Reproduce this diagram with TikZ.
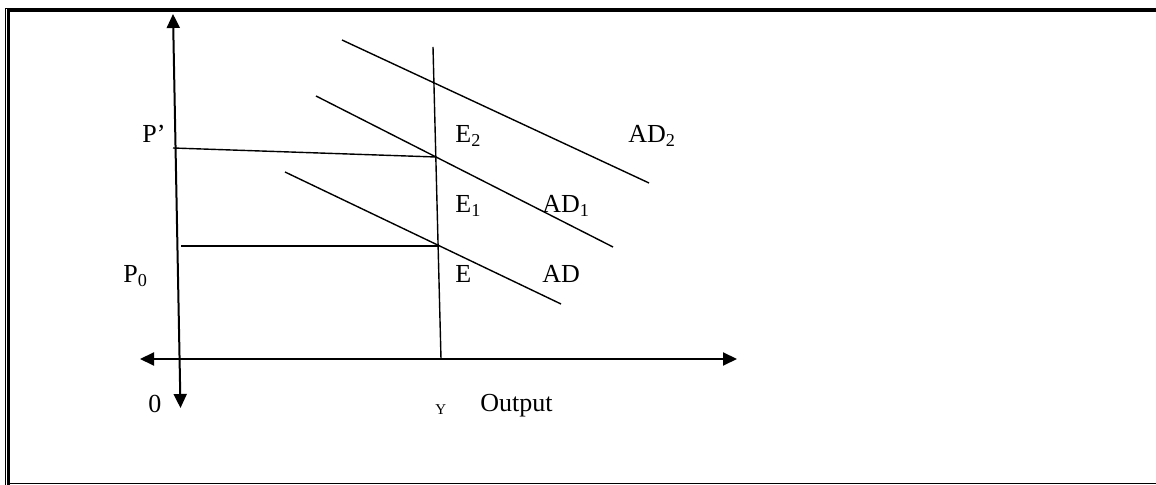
\documentclass[tikz,border=0pt]{standalone}
\usepackage{fontspec}
\setmainfont{Liberation Serif}
\usepackage{tikz}
\usetikzlibrary{arrows.meta,positioning,calc}

\begin{document}
\begin{tikzpicture}[x=0.5pt,y=-0.5pt,
  every node/.style={font=\fontsize{13}{15}\selectfont,inner sep=0pt,anchor=base west},
  axis/.style={line width=1pt,{Triangle[length=7pt,width=6.5pt]}-{Triangle[length=7pt,width=6.5pt]}},
  curve/.style={line width=0.7pt}]
  \useasboundingbox (0,0) rectangle (1156,485);
  % frame
  \draw[line width=0.6pt] (5.5,485) -- (5.5,8.5) -- (1156,8.5);
  \draw[line width=1.6pt] (8.7,485) -- (8.7,10.5) -- (1156,10.5);
  \draw[line width=0.6pt] (8,483.7) -- (1156,483.7);
  % axes
  \coordinate (ytop) at (173,14);
  \coordinate (ybot) at (180.5,408);
  \coordinate (xleft) at (140,359);
  \coordinate (xright) at (737,359);
  \draw[axis] (ybot) -- (ytop);
  \draw[axis] (xleft) -- (xright);
  % vertical supply line at Y
  \coordinate (stop) at (433,47);
  \coordinate (sbot) at (441,359);
  \draw[curve] (stop) -- (sbot);
  % demand curves
  \coordinate (ad2a) at (342,40);  \coordinate (ad2b) at (649,183);
  \coordinate (ad1a) at (316,96);  \coordinate (ad1b) at (613,247);
  \coordinate (ad0a) at (285,172); \coordinate (ad0b) at (561,304);
  \draw[curve] (ad2a) -- (ad2b);
  \draw[curve] (ad1a) -- (ad1b);
  \draw[curve] (ad0a) -- (ad0b);
  % price levels
  \coordinate (pone) at (173,148);  \coordinate (eone) at (436,157);
  \coordinate (pzero) at (181,246); \coordinate (ezero) at (438,246);
  \draw[curve] (pone) -- (eone);
  \draw[curve] (pzero) -- (ezero);
  % labels
  \node (lpone) at (142,143) {P’};
  \node (lpzero) at (123,283) {P\textsubscript{0}};
  \node (lorigin) at (148,413) {0};
  \node (le2) at (455,143) {E\textsubscript{2}};
  \node (le1) at (455,213) {E\textsubscript{1}};
  \node (le) at (455,283) {E};
  \node (lad2) at (628,143) {AD\textsubscript{2}};
  \node (lad1) at (542,213) {AD\textsubscript{1}};
  \node (lad) at (542,283) {AD};
  \node[font=\fontsize{7.5}{9}\selectfont] (ly) at (435,415) {Y};
  \node (lout) at (480,412) {Output};
\end{tikzpicture}
\end{document}
